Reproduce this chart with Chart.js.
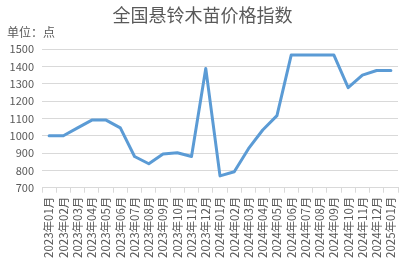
<!DOCTYPE html>
<html>
<head>
  <meta charset="UTF-8">
  <title>全国悬铃木苗价格指数</title>
  <script src="https://cdn.jsdelivr.net/npm/chart.js"></script>
  <style>
    body, html {
      margin: 0;
      padding: 0;
      background: #fff;
    }
    #chart-container {
      width: 413px;
      height: 264px;
      position: relative;
    }
  </style>
</head>
<body>
  <div id="chart-container">
    <canvas id="priceChart"></canvas>
  </div>

  <script>
    const months = ["2023年01月", "2023年02月", "2023年03月", "2023年04月", "2023年05月", "2023年06月",
      "2023年07月", "2023年08月", "2023年09月", "2023年10月", "2023年11月", "2023年12月",
      "2024年01月", "2024年02月", "2024年03月", "2024年04月", "2024年05月", "2024年06月",
      "2024年07月", "2024年08月", "2024年09月", "2024年10月", "2024年11月", "2024年12月", "2025年01月"];
    const priceIndex = [1000, 1000, 1045, 1090, 1090, 1045, 880, 838, 895, 902, 880, 1388,
      768, 792, 925, 1033, 1116, 1465, 1465, 1465, 1465, 1277, 1349, 1376, 1376];
    const yMin = 700;
    const yMax = 1500;
    const yStep = 100;

    const fontFamily = '"Noto Sans CJK SC", "Noto Sans", sans-serif';
    const textColor = '#595959';
    const gridColor = '#D9D9D9';

    const ctx = document.getElementById('priceChart').getContext('2d');
    new Chart(ctx, {
      type: 'line',
      data: {
        labels: months,
        datasets: [{
          label: '价格指数',
          data: priceIndex,
          borderColor: '#5B9BD5',
          borderWidth: 3,
          pointRadius: 0,
          tension: 0,
          borderJoinStyle: 'round',
          borderCapStyle: 'round'
        }]
      },
      options: {
        responsive: true,
        maintainAspectRatio: false,
        animation: false,
        layout: { padding: { left: 7, right: 15, top: 0, bottom: 2 } },
        plugins: {
          legend: { display: false },
          tooltip: { enabled: false },
          title: {
            display: true,
            text: '全国悬铃木苗价格指数',
            color: textColor,
            font: { family: fontFamily, size: 18, weight: 'normal' },
            padding: { top: 4, bottom: 0 }
          },
          subtitle: {
            display: true,
            text: '单位：点',
            align: 'start',
            color: textColor,
            font: { family: fontFamily, size: 12, weight: 'normal' },
            padding: { top: 0, bottom: 9 }
          }
        },
        scales: {
          y: {
            min: yMin,
            max: yMax,
            afterFit: axis => { axis.width = 35; },
            ticks: {
              stepSize: yStep,
              color: textColor,
              padding: 8,
              font: { family: fontFamily, size: 11 },
              callback: v => String(v)
            },
            grid: { color: gridColor, drawTicks: false },
            border: { display: false }
          },
          x: {
            offset: true,
            ticks: {
              color: textColor,
              minRotation: 90,
              maxRotation: 90,
              autoSkip: false,
              padding: 4,
              font: { family: fontFamily, size: 11.5 }
            },
            grid: {
              offset: true,
              drawOnChartArea: false,
              drawTicks: true,
              tickLength: 5,
              color: gridColor
            },
            border: { display: true, color: gridColor }
          }
        }
      }
    });
  </script>
</body>
</html>
